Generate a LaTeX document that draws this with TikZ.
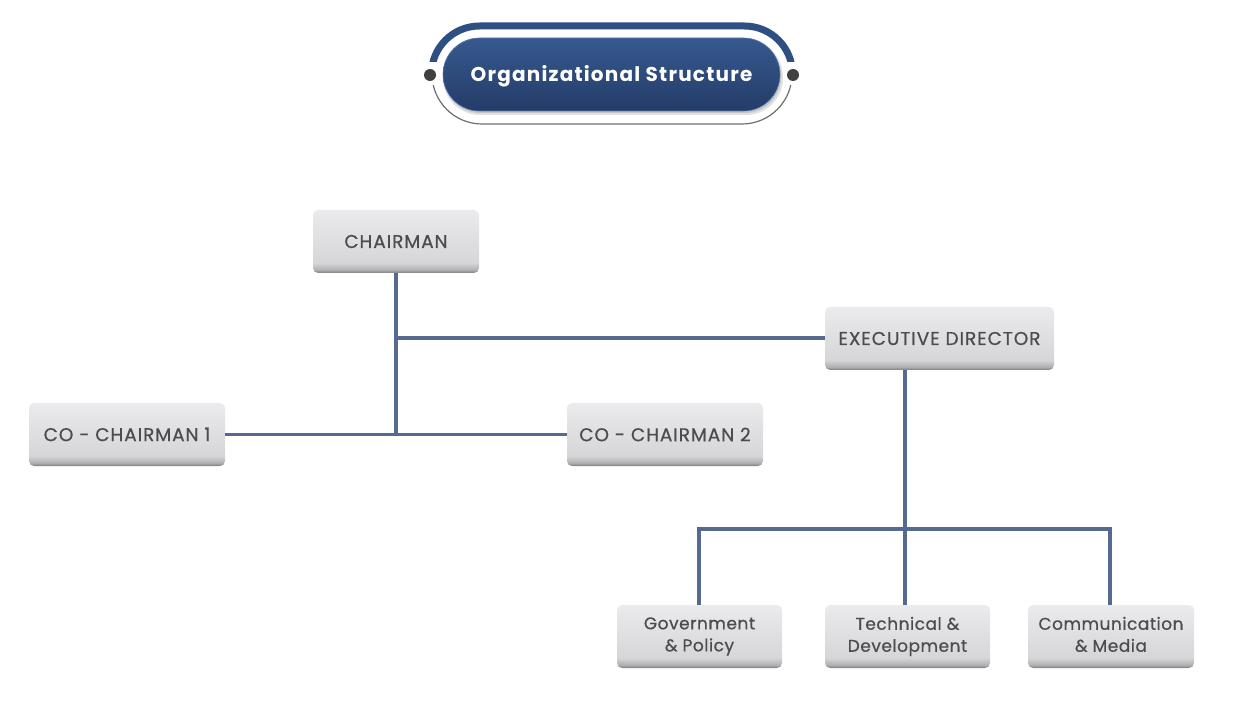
\documentclass[tikz,border=0pt]{standalone}
\usepackage{fontspec}
\setmainfont{Poppins}
\newfontfamily\boxfont{Poppins}[FakeBold=0.6, LetterSpace=5]
\newfontfamily\lowfont{Poppins}[FakeBold=0.6, LetterSpace=3]
\newfontfamily\titlefont{Poppins Bold}[LetterSpace=6]
\definecolor{linec}{HTML}{566A8F}
\definecolor{boxtext}{HTML}{4C4C4C}
\definecolor{navytop}{HTML}{36598F}
\definecolor{navybot}{HTML}{243C68}
\definecolor{navyedge}{HTML}{5577AA}
\definecolor{arcblue}{HTML}{2E4F82}
\definecolor{arcgray}{HTML}{6E6E6E}
\definecolor{dotc}{HTML}{404040}
\definecolor{bxt}{HTML}{EBEBED}
\definecolor{bxl}{HTML}{D6D6D8}
\definecolor{bxm}{HTML}{B0B0B2}
\definecolor{bxd}{HTML}{7C7C7E}
\pgfdeclareverticalshading{boxshade}{100bp}{color(0bp)=(bxd); color(25bp)=(bxd); color(27.5bp)=(bxm); color(33bp)=(bxl); color(75bp)=(bxt); color(100bp)=(bxt)}
\tikzset{
  orgbox/.style={shade, shading=boxshade, rounded corners=5pt, text=boxtext,
    font=\boxfont\fontsize{18.5}{22}\selectfont, inner sep=0pt, align=center,
    minimum height=63pt},
  lowbox/.style={orgbox, font=\lowfont\fontsize{17}{22}\selectfont},
  conn/.style={draw=linec, line width=3.2pt},
  pill/.style={rounded corners=36.5pt, top color=navytop, bottom color=navybot,
    draw=navyedge, line width=0.6pt, inner sep=0pt,
    minimum width=337pt, minimum height=73pt},
  titletxt/.style={text=white, inner sep=0pt, anchor=base,
    font=\titlefont\fontsize{20}{22}\selectfont},
  dotnode/.style={circle, fill=dotc, inner sep=0pt, minimum size=12pt}
}
\begin{document}
\begin{tikzpicture}[x=1pt,y=-1pt]
\useasboundingbox (0,0) rectangle (1240,711);
% title decoration
\begin{scope}
  \clip (400,0) rectangle (830,62);
  \draw[arcblue, line width=7pt, rounded corners=48pt] (431.5,26) rectangle (792.5,122);
\end{scope}
\begin{scope}
  \clip (400,86) rectangle (830,140);
  \draw[arcgray, line width=1.2pt, rounded corners=50pt] (432,24) rectangle (792,124);
\end{scope}
\node[dotnode] (dl) at (430,75) {};
\node[dotnode] (dr) at (793,75) {};
\fill[black, opacity=0.12, rounded corners=37pt] (443,40) rectangle (783,115);
\fill[black, opacity=0.12, rounded corners=36pt] (444,40) rectangle (781,113);
\node[pill] (title) at (611.5,74.5) {};
\node[titletxt] (tt) at (611.5,81.5) {Organizational Structure};
% boxes
\node[orgbox, minimum width=166pt] (ch) at (396,241.5) {CHAIRMAN};
\node[orgbox, minimum width=229pt] (ed) at (939.5,338.5) {EXECUTIVE DIRECTOR};
\node[orgbox, minimum width=196pt] (co1) at (127,434.5) {CO - CHAIRMAN 1};
\node[orgbox, minimum width=196pt] (co2) at (665,434.5) {CO - CHAIRMAN 2};
\node[lowbox, minimum width=165pt] (gov) at (699.5,636.5) {Government\\\& Policy};
\node[lowbox, minimum width=165pt] (tech) at (907.5,636.5) {Technical \&\\Development};
\node[lowbox, minimum width=166pt] (comm) at (1111,636.5) {Communication\\\& Media\vphantom{y}};
% connectors
\coordinate (j1) at (396,338);
\coordinate (j2) at (396,436);
\coordinate (k) at (905,529);
\draw[conn] (ch.south) -- (j2);
\draw[conn] (j1) -- (ed.west |- j1);
\draw[conn] (co1.east) -- (co2.west);
\draw[conn] (ed.south -| k) -- (tech.north -| k);
\draw[conn] (gov.north -| 699,0) -- (699,529) -- (1110,529) -- (comm.north -| 1110,0);
\end{tikzpicture}
\end{document}
